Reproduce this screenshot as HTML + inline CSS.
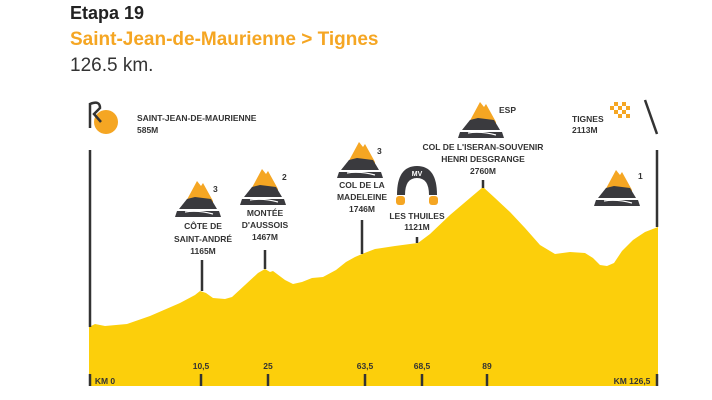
<!DOCTYPE html>
<html><head><meta charset="utf-8"><style>
body{margin:0;width:712px;height:400px;background:#fff;overflow:hidden;font-family:"Liberation Sans",sans-serif}
.t{position:absolute;left:70px}
</style></head><body>
<div class="t" style="top:3px;font-size:18px;font-weight:bold;color:#222">Etapa 19</div>
<div class="t" style="top:29px;font-size:19px;font-weight:bold;color:#f5a623">Saint-Jean-de-Maurienne &gt; Tignes</div>
<div class="t" style="top:55px;font-size:19px;color:#333">126.5 km.</div>
<svg width="712" height="400" style="position:absolute;left:0;top:0" font-family="Liberation Sans" font-weight="bold" fill="#333">
<defs>
<g id="m"><path d="M0,30 L14,4 L18,9 L20,6 L30,24 L30,30Z" fill="#f5a623"/><path d="M-4,32 L4,22 L12,20 L20,21 L28,22 L34,32Z" fill="#3a3a3e"/><path d="M-6,34 L36,34 L38,40 L-8,40Z" fill="#3a3a3e"/><path d="M2,35 Q15,33 30,37" stroke="#fff" stroke-width="1.2" fill="none"/></g>
</defs>
<path d="M89,327 L95,324 L105,326 L127,324 L150,316 L180,303 L195,295 L200,291 L206,293 L213,298 L225,299 L232,297 L245,285 L258,273 L265,269 L270,272 L273,271 L285,280 L293,284 L302,282 L312,278 L323,277 L336,270 L346,262 L355,257 L362,254 L375,249 L395,246 L410,244 L418,243 L430,234 L450,215 L470,198 L483,187 L495,198 L510,212 L525,228 L540,245 L555,254 L570,252 L585,253 L593,258 L600,265 L607,266 L614,263 L622,251 L633,240 L645,232 L658,227 L658,386 L89,386Z" fill="#fccf0b"/>
<g stroke="#333" stroke-width="2.5">
<line x1="90" y1="150" x2="90" y2="327"/><line x1="657" y1="150" x2="657" y2="227"/>
<line x1="202" y1="260" x2="202" y2="291"/><line x1="265" y1="250" x2="265" y2="269"/>
<line x1="362" y1="220" x2="362" y2="254"/><line x1="417" y1="237" x2="417" y2="243"/><line x1="483" y1="180" x2="483" y2="188"/>
<line x1="90" y1="374" x2="90" y2="386"/><line x1="657" y1="374" x2="657" y2="386"/>
<line x1="201" y1="374" x2="201" y2="386"/><line x1="268" y1="374" x2="268" y2="386"/><line x1="365" y1="374" x2="365" y2="386"/><line x1="422" y1="374" x2="422" y2="386"/><line x1="487" y1="374" x2="487" y2="386"/>
<line x1="645" y1="100" x2="657" y2="134"/>
</g>
<g font-size="8.5" text-anchor="middle">
<text x="201" y="369">10,5</text><text x="268" y="369">25</text><text x="365" y="369">63,5</text><text x="422" y="369">68,5</text><text x="487" y="369">89</text>
<text x="105" y="384">KM 0</text><text x="632" y="384">KM 126,5</text>
<text x="203" y="229">CÔTE DE</text><text x="203" y="242">SAINT-ANDRÉ</text><text x="203" y="254">1165M</text>
<text x="265" y="216">MONTÉE</text><text x="265" y="228">D'AUSSOIS</text><text x="265" y="240">1467M</text>
<text x="362" y="188">COL DE LA</text><text x="362" y="200">MADELEINE</text><text x="362" y="212">1746M</text>
<text x="417" y="219">LES THUILES</text><text x="417" y="230">1121M</text>
<text x="483" y="150">COL DE L'ISERAN-SOUVENIR</text><text x="483" y="162">HENRI DESGRANGE</text><text x="483" y="174">2760M</text>
</g>
<g font-size="8.5"><text x="137" y="121">SAINT-JEAN-DE-MAURIENNE</text><text x="137" y="133">585M</text>
<text x="572" y="122">TIGNES</text><text x="572" y="133">2113M</text>
<text x="213" y="192">3</text><text x="282" y="180">2</text><text x="377" y="154">3</text><text x="499" y="113">ESP</text><text x="638" y="179">1</text></g>
<use href="#m" x="183" y="177"/><use href="#m" x="248" y="165"/><use href="#m" x="345" y="138"/><use href="#m" x="466" y="98"/><use href="#m" x="602" y="166"/>
<path d="M397,195 Q397,166 417,166 Q437,166 437,195 L429,195 Q429,178 417,178 Q405,178 405,195Z" fill="#3a3a3e"/>
<rect x="396" y="196" width="9" height="9" rx="3" fill="#f5a623"/><rect x="429" y="196" width="9" height="9" rx="3" fill="#f5a623"/>
<text x="417" y="176" font-size="7" fill="#fff" text-anchor="middle">MV</text>
<circle cx="106" cy="122" r="12" fill="#f5a623"/>
<path d="M90,128 L90,104 Q100,100 100,108 L94,114 L101,122" stroke="#333" stroke-width="2.5" fill="none"/>
<g fill="#f5a623"><rect x="610" y="106" width="4" height="4"/><rect x="618" y="106" width="4" height="4"/><rect x="614" y="110" width="4" height="4"/><rect x="622" y="110" width="4" height="4"/><rect x="618" y="114" width="4" height="4"/><rect x="626" y="114" width="4" height="4"/><rect x="614" y="102" width="4" height="4"/><rect x="622" y="102" width="4" height="4"/><rect x="626" y="106" width="4" height="4"/></g>
</svg>
</body></html>
